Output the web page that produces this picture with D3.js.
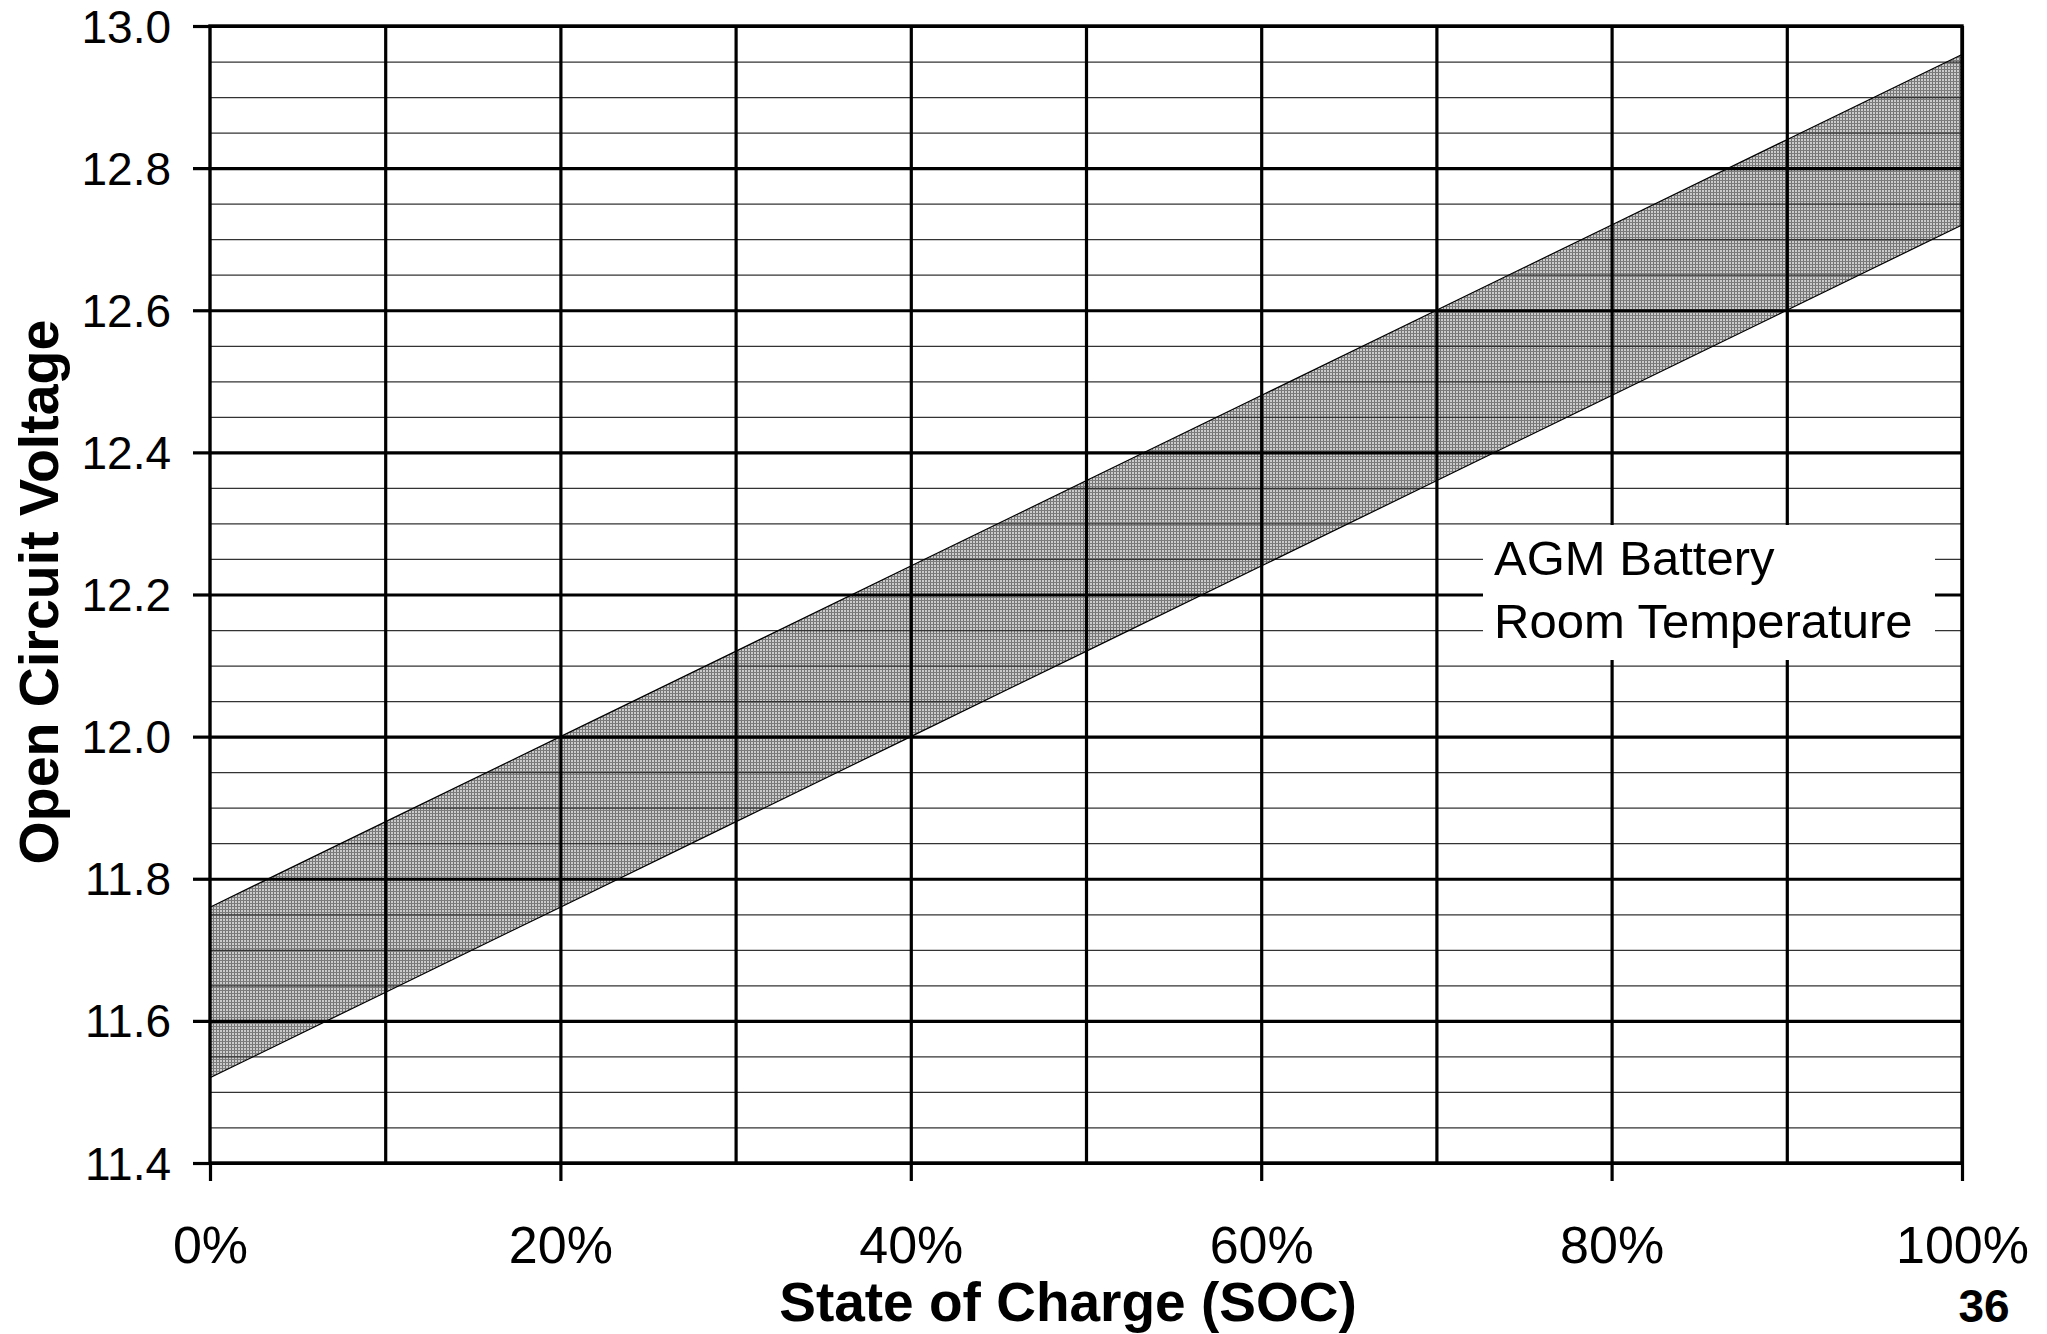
<!DOCTYPE html>
<html>
<head>
<meta charset="utf-8">
<script src="https://cdn.jsdelivr.net/npm/d3@7"></script>
<style>
  html, body { margin: 0; padding: 0; background: #fff; }
  svg { display: block; }
  text { font-family: "Liberation Sans", Arial, sans-serif; fill: #000; }
</style>
</head>
<body>
<svg id="chart" width="2047" height="1334"></svg>
<script>
// ---- data ----
const socValues     = [0, 10, 20, 30, 40, 50, 60, 70, 80, 90, 100];
const upperVoltage  = [11.76, 11.88, 12.00, 12.12, 12.24, 12.36, 12.48, 12.60, 12.72, 12.84, 12.96];
const lowerVoltage  = [11.52, 11.64, 11.76, 11.88, 12.00, 12.12, 12.24, 12.36, 12.48, 12.60, 12.72];
const yMajorTicks   = [11.4, 11.6, 11.8, 12.0, 12.2, 12.4, 12.6, 12.8, 13.0];
const yMinorTicks   = [11.45, 11.5, 11.55, 11.65, 11.7, 11.75, 11.85, 11.9, 11.95, 12.05, 12.1, 12.15,
                       12.25, 12.3, 12.35, 12.45, 12.5, 12.55, 12.65, 12.7, 12.75, 12.85, 12.9, 12.95];
const xGridTicks    = [10, 20, 30, 40, 50, 60, 70, 80, 90, 100];
const xLabelTicks   = [0, 20, 40, 60, 80, 100];
const xLabels       = ["0%", "20%", "40%", "60%", "80%", "100%"];
const noteLines     = ["AGM Battery", "Room Temperature"];
const xTitle = "State of Charge (SOC)";
const yTitle = "Open Circuit Voltage";
const pageNumber = "36";

// ---- layout ----
const L = 210, R = 1962, T = 26, B = 1163;
const svg = d3.select("#chart");
const x = d3.scaleLinear().domain([0, 100]).range([L, R]);
const y = d3.scaleLinear().domain([11.4, 13.0]).range([B, T]);

// fill pattern
const defs = svg.append("defs");
const pat = defs.append("pattern").attr("id", "hatch")
  .attr("patternUnits", "userSpaceOnUse").attr("width", 3).attr("height", 3);
pat.append("rect").attr("width", 3).attr("height", 3).attr("fill", "#cbcbcb");
pat.append("rect").attr("x", 0).attr("y", 0).attr("width", 1).attr("height", 3).attr("fill", "#727272");
pat.append("rect").attr("x", 0).attr("y", 0).attr("width", 3).attr("height", 1).attr("fill", "#7c7c7c");

const bandData = socValues.map((s, i) => ({ s, lo: lowerVoltage[i], hi: upperVoltage[i] }));

// band fill
svg.append("path").datum(bandData)
  .attr("d", d3.area().x(d => x(d.s)).y0(d => y(d.lo)).y1(d => y(d.hi)))
  .attr("fill", "url(#hatch)");

// minor horizontal gridlines
svg.append("g").attr("transform", `translate(${L},0)`)
  .call(d3.axisLeft(y).tickValues(yMinorTicks).tickSize(-(R - L)).tickFormat(""))
  .call(g => g.select(".domain").remove())
  .call(g => g.selectAll("line").attr("stroke", "#333").attr("stroke-width", 1.2));

// band edges
svg.append("path").datum(bandData)
  .attr("d", d3.line().x(d => x(d.s)).y(d => y(d.hi)))
  .attr("fill", "none").attr("stroke", "#000").attr("stroke-width", 1.2);
svg.append("path").datum(bandData)
  .attr("d", d3.line().x(d => x(d.s)).y(d => y(d.lo)))
  .attr("fill", "none").attr("stroke", "#000").attr("stroke-width", 1.2);

// major horizontal gridlines
svg.append("g").attr("transform", `translate(${L},0)`)
  .call(d3.axisLeft(y).tickValues(yMajorTicks).tickSize(-(R - L)).tickFormat(""))
  .call(g => g.select(".domain").remove())
  .call(g => g.selectAll("line").attr("stroke", "#000").attr("stroke-width", 3.2));

// vertical gridlines
svg.append("g").attr("transform", `translate(0,${B})`)
  .call(d3.axisBottom(x).tickValues(xGridTicks).tickSize(-(B - T)).tickFormat(""))
  .call(g => g.select(".domain").remove())
  .call(g => g.selectAll("line").attr("stroke", "#000").attr("stroke-width", 3.2));

// annotation box (white, hides gridlines)
svg.append("rect").attr("x", 1483).attr("y", 525).attr("width", 452).attr("height", 135).attr("fill", "#fff");
svg.append("g").selectAll("text").data(noteLines).join("text")
  .attr("x", 1494).attr("y", (d, i) => 575 + i * 63)
  .attr("font-size", 49).text(d => d);

// frame
svg.append("rect").attr("x", L).attr("y", T).attr("width", R - L).attr("height", B - T)
  .attr("fill", "none").attr("stroke", "#000").attr("stroke-width", 3.4);

// y axis ticks + labels
const yAxis = svg.append("g").attr("transform", `translate(${L},0)`)
  .call(d3.axisLeft(y).tickValues(yMajorTicks).tickSize(17).tickPadding(22).tickFormat(d3.format(".1f")));
yAxis.select(".domain").remove();
yAxis.selectAll("line").attr("stroke", "#000").attr("stroke-width", 3.2);
yAxis.selectAll("text").attr("font-size", 46).attr("font-family", "Liberation Sans, Arial, sans-serif")
  .attr("fill", "#000").attr("dy", "0.35em");

// x axis ticks + labels
const xAxis = svg.append("g").attr("transform", `translate(0,${B})`)
  .call(d3.axisBottom(x).tickValues(xLabelTicks).tickSize(18).tickPadding(0)
    .tickFormat((d, i) => xLabels[i]));
xAxis.select(".domain").remove();
xAxis.selectAll("line").attr("stroke", "#000").attr("stroke-width", 3.2);
xAxis.selectAll("text").attr("font-size", 52).attr("font-family", "Liberation Sans, Arial, sans-serif")
  .attr("fill", "#000").attr("y", 100).attr("dy", 0);

// axis titles
svg.append("text").attr("x", 1068).attr("y", 1321).attr("text-anchor", "middle")
  .attr("font-size", 55).attr("font-weight", "bold").text(xTitle);
svg.append("text").attr("transform", "translate(58,592) rotate(-90)").attr("text-anchor", "middle")
  .attr("font-size", 55.5).attr("font-weight", "bold").text(yTitle);

// page number
svg.append("text").attr("x", 1984).attr("y", 1322).attr("text-anchor", "middle")
  .attr("font-size", 46).attr("font-weight", "bold").text(pageNumber);
</script>
</body>
</html>
